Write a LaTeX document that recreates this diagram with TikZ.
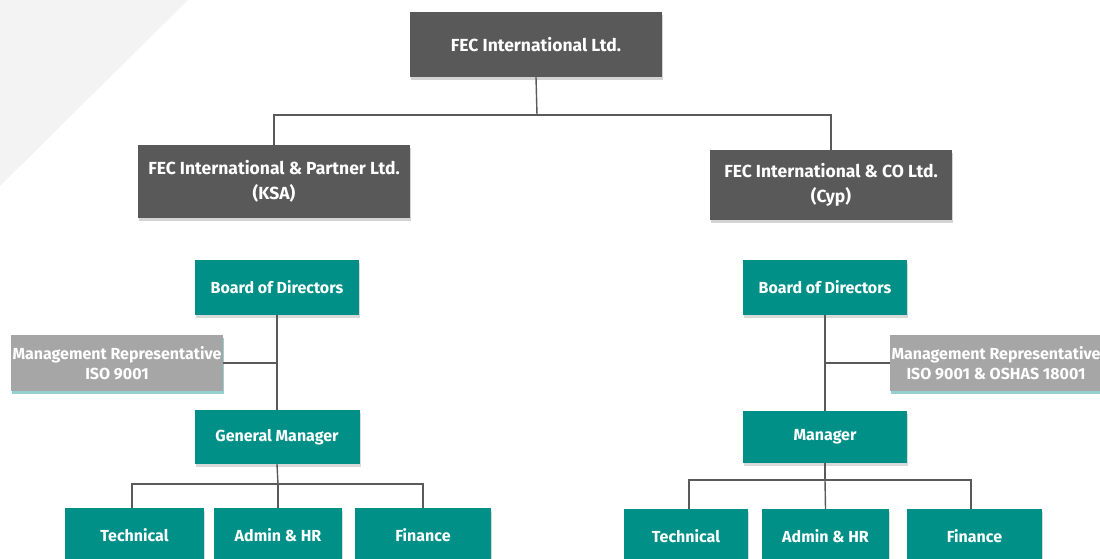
\documentclass[tikz,border=0pt]{standalone}
\usepackage{fontspec}
\setmainfont{Fira Sans}
\usepackage{tikz}
\usetikzlibrary{positioning, calc, shadows}

\definecolor{darkgrey}{HTML}{595959}
\definecolor{tealc}{HTML}{009088}
\definecolor{lightgrey}{HTML}{A6A6A6}
\definecolor{linegrey}{HTML}{5A5A5A}
\definecolor{bgtri}{HTML}{F3F3F3}

\tikzset{
  box/.style={rectangle, text=white, align=center, inner sep=0pt,
    font=\fontsize{16}{20}\selectfont\bfseries},
  darkbox/.style={box, fill=darkgrey, font=\fontsize{17.5}{21}\selectfont\bfseries,
    drop shadow={shadow xshift=1pt, shadow yshift=-2.5pt, opacity=0.35}},
  tealbox/.style={box, fill=tealc,
    drop shadow={shadow xshift=1pt, shadow yshift=-2.5pt, opacity=0.3}},
  greybox/.style={box, fill=lightgrey,
    drop shadow={shadow xshift=1pt, shadow yshift=-2.5pt, opacity=0.6, fill=tealc!70}},
  link/.style={draw=linegrey, line width=1.4pt}
}

\begin{document}
\begin{tikzpicture}[x=1pt, y=-1pt]
\useasboundingbox (0,0) rectangle (1100,558);
\clip (0,0) rectangle (1100,558);

% background corner
\fill[bgtri] (0,0) -- (188,0) -- (0,186) -- cycle;

% Top company
\node[darkbox, minimum width=252pt, minimum height=65pt] (top) at (536,44.5) {FEC International Ltd.};

% Subsidiaries
\node[darkbox, minimum width=272pt, minimum height=73pt] (ksa) at (274,181.5) {FEC International \& Partner Ltd.\\[4pt](KSA)};
\node[darkbox, minimum width=242pt, minimum height=70pt] (cyp) at (831,185) {FEC International \& CO Ltd.\\[4pt](Cyp)};

\coordinate (topbar) at (537,115);
\draw[link] (top.south) -- (topbar);
\draw[link] (ksa.north) |- (topbar) -| (cyp.north);

% KSA branch
\node[tealbox, minimum width=164pt, minimum height=55pt] (bodL) at (277,287.5) {Board of Directors};
\node[greybox, minimum width=212pt, minimum height=56pt] (mrL) at (117,363) {Management Representative\\ISO 9001};
\node[tealbox, minimum width=165pt, minimum height=54pt] (gmL) at (277,437) {General Manager};

\draw[link] (bodL) -- (gmL);
\draw[link] (mrL.east) -- (mrL.east -| bodL.south);

\node[tealbox, minimum width=139pt, minimum height=54pt] (techL) at (134.5,535) {Technical};
\node[tealbox, minimum width=128pt, minimum height=54pt] (admL) at (278,535) {Admin \& HR};
\node[tealbox, minimum width=136pt, minimum height=54pt] (finL) at (423,535) {Finance};

\coordinate (barL) at (278,484);
\draw[link] (gmL.south) -- (barL);
\draw[link] (techL.north -| 132,0) |- (barL) -| (finL.north);
\draw[link] (admL.north) -- (barL);

% Cyp branch
\node[tealbox, minimum width=164pt, minimum height=55pt] (bodR) at (825,287.5) {Board of Directors};
\node[greybox, minimum width=212pt, minimum height=56pt] (mrR) at (996,363) {Management Representative\\ISO 9001 \& OSHAS 18001};
\node[tealbox, minimum width=164pt, minimum height=52pt] (mgR) at (825,437) {Manager};

\draw[link] (bodR) -- (mgR);
\draw[link] (mrR.west) -- (mrR.west -| bodR.south);

\node[tealbox, minimum width=124pt, minimum height=54pt] (techR) at (686,536) {Technical};
\node[tealbox, minimum width=127pt, minimum height=54pt] (admR) at (825.5,536) {Admin \& HR};
\node[tealbox, minimum width=135pt, minimum height=54pt] (finR) at (974.5,536) {Finance};

\coordinate (barR) at (825,480);
\draw[link] (mgR.south) -- (barR);
\draw[link] (techR.north -| 689,0) |- (barR) -| (finR.north -| 971,0);
\draw[link] (admR.north) -- (barR);
\end{tikzpicture}
\end{document}
